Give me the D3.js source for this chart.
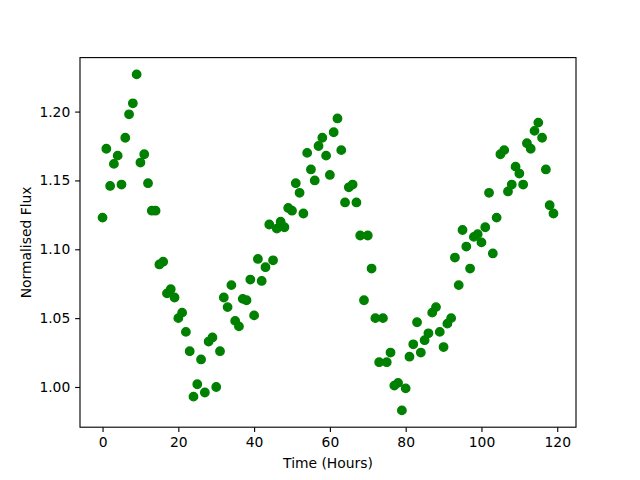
<!DOCTYPE html>
<html>
<head>
<meta charset="utf-8">
<script src="https://cdn.jsdelivr.net/npm/d3@7"></script>
<style>
  html, body { margin: 0; padding: 0; background: #fff; }
  svg { display: block; }
</style>
</head>
<body>
<div id="chart"></div>
<script>
// hourly samples, 0..119
const hours = d3.range(0, 120);
const flux = [
  1.123, 1.173, 1.146, 1.162, 1.168, 1.147, 1.181, 1.198, 1.206, 1.227,
  1.163, 1.169, 1.148, 1.128, 1.128, 1.089, 1.091, 1.068, 1.071, 1.065,
  1.050, 1.054, 1.040, 1.026, 0.993, 1.002, 1.020, 0.996, 1.033, 1.036,
  1.000, 1.026, 1.065, 1.058, 1.074, 1.048, 1.044, 1.064, 1.063, 1.078,
  1.052, 1.093, 1.077, 1.087, 1.118, 1.092, 1.115, 1.120, 1.116, 1.130,
  1.128, 1.148, 1.141, 1.126, 1.170, 1.158, 1.150, 1.175, 1.181, 1.168,
  1.154, 1.185, 1.195, 1.172, 1.134, 1.145, 1.147, 1.134, 1.110, 1.063,
  1.110, 1.086, 1.050, 1.018, 1.050, 1.018, 1.025, 1.001, 1.003, 0.983,
  0.999, 1.022, 1.031, 1.047, 1.025, 1.034, 1.039, 1.054, 1.058, 1.040,
  1.029, 1.046, 1.050, 1.094, 1.074, 1.114, 1.102, 1.086, 1.109, 1.111,
  1.105, 1.116, 1.141, 1.097, 1.123, 1.169, 1.172, 1.142, 1.147, 1.160,
  1.155, 1.147, 1.177, 1.173, 1.186, 1.192, 1.181, 1.158, 1.132, 1.126
];
const xTicks = [0, 20, 40, 60, 80, 100, 120];
const yTicks = [1.00, 1.05, 1.10, 1.15, 1.20];

const width = 640;
const height = 480;
const margins = { top: 57.6, right: 64, bottom: 52.8, left: 80 };
const pt = 100 / 72;

const svg = d3.select('#chart')
  .append('svg')
  .attr('width', width)
  .attr('height', height)
  .attr('font-family', "'DejaVu Sans', sans-serif");

// matplotlib style 5% margins around the data
const xMin = d3.min(hours), xMax = d3.max(hours);
const yMin = d3.min(flux), yMax = d3.max(flux);
const xPad = (xMax - xMin) * 0.05;
const yPad = (yMax - yMin) * 0.05;

const xScale = d3.scaleLinear([xMin - xPad, xMax + xPad], [margins.left, width - margins.right]);
const yScale = d3.scaleLinear([yMin - yPad, yMax + yPad], [height - margins.bottom, margins.top]);

// points
svg.append('g')
  .selectAll('circle')
  .data(hours)
  .join('circle')
  .attr('cx', (d) => xScale(d))
  .attr('cy', (d, i) => yScale(flux[i]))
  .attr('r', 4.2)
  .attr('fill', '#008000')
  .attr('stroke', '#008000')
  .attr('stroke-width', 1 * pt);

// axes
const xAxis = svg.append('g')
  .attr('transform', `translate(0,${height - margins.bottom})`)
  .call(d3.axisBottom(xScale).tickValues(xTicks).tickFormat(d3.format('d'))
    .tickSize(3.5 * pt).tickPadding(3.5 * pt).tickSizeOuter(0));

const yAxis = svg.append('g')
  .attr('transform', `translate(${margins.left},0)`)
  .call(d3.axisLeft(yScale).tickValues(yTicks).tickFormat(d3.format('.2f'))
    .tickSize(3.5 * pt).tickPadding(3.5 * pt).tickSizeOuter(0));

[xAxis, yAxis].forEach((g) => {
  g.select('.domain').remove();
  g.selectAll('.tick line').attr('stroke', '#000').attr('stroke-width', 0.8 * pt);
  g.selectAll('.tick text').attr('fill', '#000').attr('font-size', 10 * pt)
    .attr('font-family', "'DejaVu Sans', sans-serif");
});

// frame
svg.append('rect')
  .attr('x', margins.left)
  .attr('y', margins.top)
  .attr('width', width - margins.left - margins.right)
  .attr('height', height - margins.top - margins.bottom)
  .attr('fill', 'none')
  .attr('stroke', '#000')
  .attr('stroke-width', 0.8 * pt);

// labels
svg.append('text')
  .attr('x', margins.left + (width - margins.left - margins.right) / 2)
  .attr('y', 468)
  .attr('text-anchor', 'middle')
  .attr('font-size', 10 * pt)
  .text('Time (Hours)');

svg.append('text')
  .attr('transform', `translate(31,${margins.top + (height - margins.top - margins.bottom) / 2}) rotate(-90)`)
  .attr('text-anchor', 'middle')
  .attr('font-size', 10 * pt)
  .text('Normalised Flux');
</script>
</body>
</html>
